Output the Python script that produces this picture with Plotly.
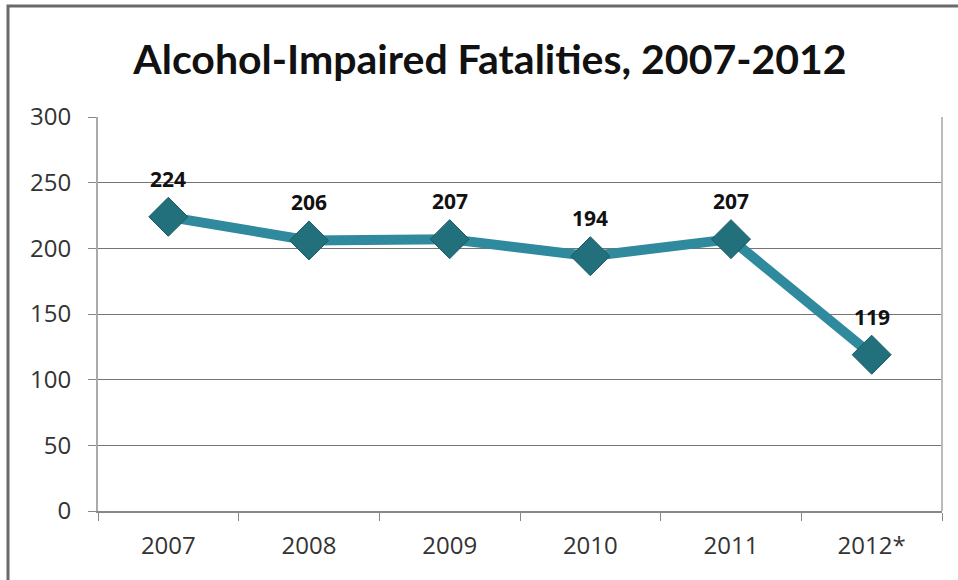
import plotly.graph_objects as go

years = ["2007", "2008", "2009", "2010", "2011", "2012*"]
fatalities = [224, 206, 207, 194, 207, 119]
y_ticks = [0, 50, 100, 150, 200, 250, 300]

W, H = 958, 580
L, R, T, B = 98, 16, 117, 69
pw, ph = W - L - R, H - T - B

def px_x(x):
    return (x - L) / pw

def px_y(y):
    return (H - B - y) / ph

fig = go.Figure()
fig.add_trace(go.Scatter(
    x=years, y=fatalities,
    mode="lines+markers",
    line=dict(color="#2F8A9D", width=10),
    marker=dict(symbol="diamond", size=30, color="#22707B",
                line=dict(color="#1B5A63", width=1)),
    hoverinfo="skip",
))

# value labels above each point (category axis: position by index)
for i, v in enumerate(fatalities):
    fig.add_annotation(x=i, y=v, text=f"<b>{v}</b>", showarrow=False,
                       yshift=38, yanchor="middle",
                       font=dict(family="Open Sans", size=21, color="#111111"))

# outer chart frame (left and top edges visible)
fig.add_shape(type="rect", xref="paper", yref="paper",
              x0=px_x(8), x1=px_x(W + 20), y0=px_y(H + 20), y1=px_y(6),
              line=dict(color="#6a6a6a", width=3), layer="below")

fig.update_layout(
    width=W, height=H,
    margin=dict(l=L, r=R, t=T, b=B),
    paper_bgcolor="white", plot_bgcolor="white",
    showlegend=False,
    title=dict(text="<b>Alcohol-Impaired Fatalities, 2007-2012</b>",
               xref="container", x=490 / W, xanchor="center",
               yref="container", y=1 - 60 / H, yanchor="middle",
               font=dict(family="Lato", size=41, color="#111111")),
    xaxis=dict(type="category", range=[-0.5, 5.5],
               tickson="boundaries", ticks="outside", ticklen=8,
               tickcolor="#888888", showline=True, linecolor="#888888",
               linewidth=2, mirror=False, showgrid=False,
               tickfont=dict(family="Open Sans", size=24, color="#333333"),
               ticklabelstandoff=12),
    yaxis=dict(range=[0, 300], tickvals=y_ticks, ticks="outside", ticklen=8,
               tickcolor="#888888", showline=True, linecolor="#aaaaaa",
               linewidth=2, showgrid=True, gridcolor="#747474", gridwidth=1,
               zeroline=False, ticklabelstandoff=12,
               tickfont=dict(family="Open Sans", size=24, color="#333333")),
)

# right edge of plotting area
fig.add_shape(type="line", xref="paper", yref="paper", x0=1, x1=1, y0=0, y1=1,
              line=dict(color="#bbbbbb", width=2))

fig.write_html("out.html")
